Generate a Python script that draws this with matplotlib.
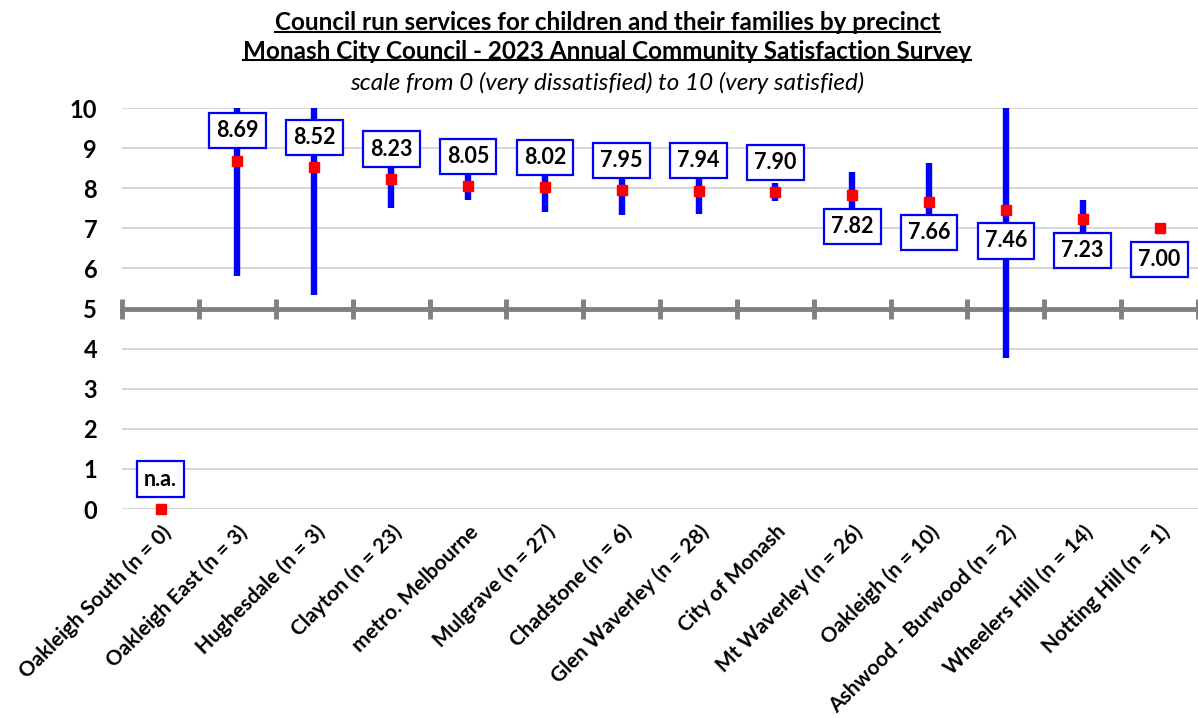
import numpy as np
import matplotlib
matplotlib.use('Agg')
import matplotlib.pyplot as plt
from matplotlib.lines import Line2D

plt.rcParams['font.family'] = ['Lato', 'DejaVu Sans']

# precincts, mean score and 95% confidence bounds
categories = ['Oakleigh South (n = 0)', 'Oakleigh East (n = 3)', 'Hughesdale (n = 3)',
              'Clayton (n = 23)', 'metro. Melbourne', 'Mulgrave (n = 27)',
              'Chadstone (n = 6)', 'Glen Waverley (n = 28)', 'City of Monash',
              'Mt Waverley (n = 26)', 'Oakleigh (n = 10)', 'Ashwood - Burwood (n = 2)',
              'Wheelers Hill (n = 14)', 'Notting Hill (n = 1)']
means = [0.00, 8.69, 8.52, 8.23, 8.05, 8.02, 7.95, 7.94, 7.90, 7.82, 7.66, 7.46, 7.23, 7.00]
lower = [np.nan, 5.82, 5.35, 7.50, 7.71, 7.41, 7.33, 7.37, 7.67, 7.23, 6.68, 3.77, 6.76, np.nan]
upper = [np.nan, 11.56, 11.69, 8.96, 8.39, 8.63, 8.57, 8.51, 8.13, 8.41, 8.64, 11.15, 7.70, np.nan]
value_labels = ['n.a.', '8.69', '8.52', '8.23', '8.05', '8.02', '7.95', '7.94', '7.90',
                '7.82', '7.66', '7.46', '7.23', '7.00']
label_above = [True] * 9 + [False] * 5

fig = plt.figure(figsize=(11.98, 7.18), dpi=100)
ax = fig.add_axes([0.102, 0.291, 0.898, 0.5585])

x = np.arange(len(categories))

ax.set_ylim(0, 10)
ax.set_xlim(-0.5, len(categories) - 0.5)
ax.set_yticks(range(0, 11))
ax.grid(axis='y', color='#d0d0d0', linewidth=1.2)
ax.set_axisbelow(True)
for s in ['top', 'right', 'left']:
    ax.spines[s].set_visible(False)

# gray axis line crossing at 5, ticks on category boundaries
ax.spines['bottom'].set_position(('data', 5))
ax.spines['bottom'].set_color('#808080')
ax.spines['bottom'].set_linewidth(3.5)
ax.spines['bottom'].set_zorder(2)
ax.set_xticks(np.arange(len(categories) + 1) - 0.5)
ax.tick_params(axis='x', direction='inout', length=14, width=3.5, color='#808080',
               labelbottom=False)

# confidence intervals
ax.vlines(x, lower, upper, color='#0000ff', linewidth=4.6, zorder=3)
# means
ax.plot(x, means, linestyle='none', marker='s', markersize=7.2, color='#ff0000',
        zorder=5, clip_on=False)

for xi, m, lab, above in zip(x, means, value_labels, label_above):
    off = 30 if above else -31
    ax.annotate(lab, (xi, m), xytext=(0, off), textcoords='offset pixels',
                ha='center', va='center', fontsize=15.5, fontweight='bold', zorder=6,
                bbox=dict(boxstyle='square,pad=0.33', facecolor='white',
                          edgecolor='#0000ff', linewidth=1.6))

ax.tick_params(axis='y', length=0, labelsize=17, pad=18)
for t in ax.get_yticklabels():
    t.set_fontweight('bold')

# category labels along the bottom
sec = ax.secondary_xaxis('bottom')
sec.set_xticks(x)
sec.set_xticklabels(categories, rotation=45, ha='right', rotation_mode='anchor',
                    fontsize=15, fontweight='bold')
sec.tick_params(axis='x', length=0, pad=9)
for s in sec.spines.values():
    s.set_visible(False)

# titles
cx = 0.507
t1 = fig.text(cx, 0.968, 'Council run services for children and their families by precinct',
              ha='center', va='center', fontsize=17.5, fontweight='bold')
t2 = fig.text(cx, 0.928, 'Monash City Council - 2023 Annual Community Satisfaction Survey',
              ha='center', va='center', fontsize=17.5, fontweight='bold')
fig.text(cx, 0.884, 'scale from 0 (very dissatisfied) to 10 (very satisfied)',
         ha='center', va='center', fontsize=17.5, fontstyle='italic')

fig.canvas.draw()
renderer = fig.canvas.get_renderer()
for t in (t1, t2):
    bb = t.get_window_extent(renderer).transformed(fig.transFigure.inverted())
    yy = bb.y0 + 0.004
    fig.add_artist(Line2D([bb.x0, bb.x1], [yy, yy], transform=fig.transFigure,
                          color='black', linewidth=1.5))

fig.savefig('out.png', dpi=100)
